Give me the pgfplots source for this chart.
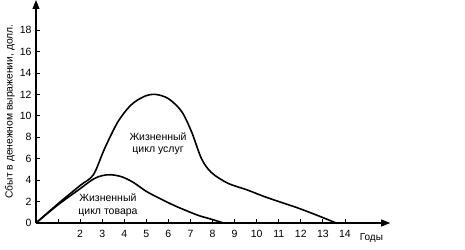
\documentclass[border=0pt]{standalone}
\usepackage{fontspec}
\setmainfont{Liberation Sans}
\usepackage{pgfplots}
\pgfplotsset{compat=1.18}
\usetikzlibrary{arrows.meta}
\begin{document}
\begin{tikzpicture}
\useasboundingbox (-36pt,-26pt) rectangle (429pt,223pt);
\begin{axis}[
  at={(0,0)}, anchor=south west,
  scale only axis, width=354.2pt, height=223pt,
  xmin=0, xmax=16.05, ymin=0, ymax=20.8,
  axis lines=left,
  axis line style={line width=1.1pt, -{Triangle[length=9pt,width=7pt]}},
  tick align=inside,
  major tick length=4pt,
  tick style={line width=0.8pt, black},
  xtick={1,...,14},
  xticklabels={,2,3,4,5,6,7,8,9,10,11,12,13,14},
  ytick={0,2,...,18},
  /pgf/number format/assume math mode=true,
  tick label style={font=\fontsize{10.5}{11}\selectfont},
  xticklabel style={yshift=-4pt},
  yticklabel style={xshift=-1pt},
  clip=false,
]
\addplot[black, line width=1.6pt, smooth, tension=0.5] coordinates {
(0,0) (1,1.8) (2,3.5) (2.6,4.5) (3.1,6.9) (3.7,9.4) (4.3,11.0) (4.9,11.8) (5.4,12.0) (6.0,11.6) (6.6,10.4) (7.05,8.5) (7.5,6.0) (7.95,4.7) (8.7,3.7) (9.55,3.1) (10.3,2.5) (11.0,2.0) (11.8,1.45) (12.7,0.75) (13.6,0)
};
\addplot[black, line width=1.6pt, smooth, tension=0.5] coordinates {
(0,0) (1,1.7) (2,3.2) (2.6,4.1) (3.0,4.42) (3.4,4.5) (3.9,4.3) (4.4,3.8) (5.0,2.95) (5.6,2.3) (6.3,1.6) (7.3,0.75) (7.9,0.38) (8.5,0)
};
\node[align=center, font=\fontsize{10.5}{12.5}\selectfont] at (axis cs:5.53,7.4) {Жизненный\\цикл услуг};
\node[align=center, font=\fontsize{10.5}{12.5}\selectfont] at (axis cs:3.26,1.68) {Жизненный\\цикл товара};
\node[font=\fontsize{10}{10}\selectfont, anchor=base] at ([yshift=-17pt]axis cs:15.2,0) {Годы};
\node[rotate=90, font=\fontsize{10.3}{10}\selectfont] at ([xshift=-26pt]axis cs:0,10.4) {Сбыт в денежном выражении, долл.};
\end{axis}
\end{tikzpicture}
\end{document}
